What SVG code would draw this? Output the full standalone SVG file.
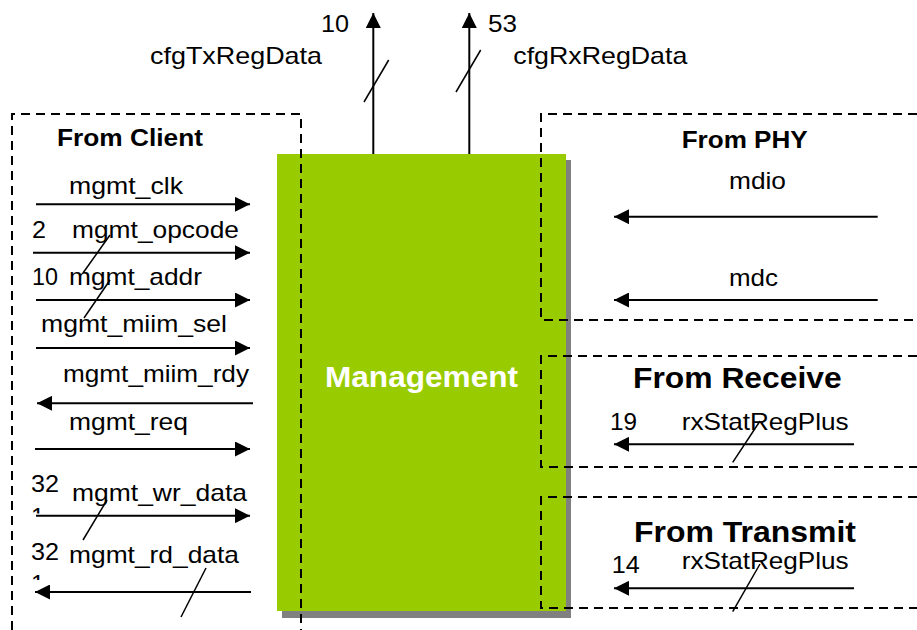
<svg xmlns="http://www.w3.org/2000/svg" width="917" height="630" viewBox="0 0 917 630">
<style>
text{font-family:"Liberation Sans",Arial,sans-serif;fill:#000;}
.t{font-size:24px;}
.h{font-size:24px;font-weight:bold;}
.hb{font-size:29px;font-weight:bold;}
.sig{stroke:#000;stroke-width:2;fill:none;marker-end:url(#ah);}
.bus{stroke:#000;stroke-width:1.5;fill:none;}
.dash{stroke:#000;stroke-width:2;fill:none;stroke-dasharray:9 6;}
</style>
<defs>
<marker id="ah" viewBox="0 0 15 15" refX="15" refY="7.5" markerWidth="15" markerHeight="15" markerUnits="userSpaceOnUse" orient="auto">
<path d="M0,0 L15,7.5 L0,15 z" fill="#000"/>
</marker>
<clipPath id="c1"><rect x="25" y="500" width="20" height="13.5"/></clipPath>
<clipPath id="c2"><rect x="25" y="566" width="20" height="14"/></clipPath>
</defs>

<g id="management">
<rect x="282" y="160" width="289" height="458" fill="#808080"/>
<rect x="277" y="154" width="289" height="457" fill="#99CC00"/>
<text x="325" y="386.7" font-size="30" font-weight="bold" style="fill:#fff" textLength="193" lengthAdjust="spacingAndGlyphs">Management</text>
</g>

<g id="from-client">
<path class="dash" d="M12,630 V114 H301 V630"/>
<text class="h" x="57" y="146" textLength="146" lengthAdjust="spacingAndGlyphs">From Client</text>
<text class="t" x="69" y="194" textLength="114" lengthAdjust="spacingAndGlyphs">mgmt_clk</text>
<text class="t" x="32" y="237.5" textLength="14" lengthAdjust="spacingAndGlyphs">2</text>
<text class="t" x="72" y="237.5" textLength="167" lengthAdjust="spacingAndGlyphs">mgmt_opcode</text>
<text class="t" x="32" y="285" textLength="26" lengthAdjust="spacingAndGlyphs">10</text>
<text class="t" x="69" y="285" textLength="133" lengthAdjust="spacingAndGlyphs">mgmt_addr</text>
<text class="t" x="41" y="332" textLength="186" lengthAdjust="spacingAndGlyphs">mgmt_miim_sel</text>
<text class="t" x="63" y="381.5" textLength="186" lengthAdjust="spacingAndGlyphs">mgmt_miim_rdy</text>
<text class="t" x="69" y="430" textLength="119" lengthAdjust="spacingAndGlyphs">mgmt_req</text>
<text class="t" x="31" y="491.5" textLength="28" lengthAdjust="spacingAndGlyphs">32</text>
<text class="t" x="31" y="525" clip-path="url(#c1)">1</text>
<text class="t" x="72" y="500.5" textLength="175" lengthAdjust="spacingAndGlyphs">mgmt_wr_data</text>
<text class="t" x="31" y="560" textLength="28" lengthAdjust="spacingAndGlyphs">32</text>
<text class="t" x="31" y="591.5" clip-path="url(#c2)">1</text>
<text class="t" x="69" y="563" textLength="170" lengthAdjust="spacingAndGlyphs">mgmt_rd_data</text>
</g>

<g id="from-phy">
<path class="dash" d="M917,114 H541 V320 H917"/>
<text class="h" x="681.7" y="147.7" textLength="126" lengthAdjust="spacingAndGlyphs">From PHY</text>
<text class="t" x="729" y="189" textLength="57" lengthAdjust="spacingAndGlyphs">mdio</text>
<text class="t" x="729" y="286" textLength="49" lengthAdjust="spacingAndGlyphs">mdc</text>
</g>

<g id="from-receive">
<path class="dash" d="M917,356 H541 V467 H917"/>
<text class="hb" x="633" y="387.7" textLength="208.7" lengthAdjust="spacingAndGlyphs">From Receive</text>
<text class="t" x="610" y="430" textLength="27" lengthAdjust="spacingAndGlyphs">19</text>
<text class="t" x="681.7" y="430" textLength="167" lengthAdjust="spacingAndGlyphs">rxStatRegPlus</text>
</g>

<g id="from-transmit">
<path class="dash" d="M917,497 H541 V608 H917"/>
<text class="hb" x="634" y="541.7" textLength="222" lengthAdjust="spacingAndGlyphs">From Transmit</text>
<text class="t" x="611.7" y="573.3" textLength="28" lengthAdjust="spacingAndGlyphs">14</text>
<text class="t" x="681.7" y="569.3" textLength="167" lengthAdjust="spacingAndGlyphs">rxStatRegPlus</text>
</g>

<g id="outputs">
<text class="t" x="321" y="32" textLength="28" lengthAdjust="spacingAndGlyphs">10</text>
<text class="t" x="488" y="32" textLength="29" lengthAdjust="spacingAndGlyphs">53</text>
<text class="t" x="150" y="64.3" textLength="172" lengthAdjust="spacingAndGlyphs">cfgTxRegData</text>
<text class="t" x="513.3" y="64.3" textLength="174" lengthAdjust="spacingAndGlyphs">cfgRxRegData</text>
</g>

<g id="connectors">
<line class="sig" x1="373.3" y1="154" x2="373.3" y2="13"/>
<line class="sig" x1="469.3" y1="154" x2="469.3" y2="13"/>
<line class="bus" x1="364" y1="102" x2="388.7" y2="60"/>
<line class="bus" x1="456" y1="92" x2="480.7" y2="50"/>

<line class="sig" x1="36" y1="204.3" x2="250" y2="204.3"/>
<line class="sig" x1="33" y1="252.7" x2="250" y2="252.7"/>
<line class="sig" x1="36" y1="300" x2="250" y2="300"/>
<line class="sig" x1="36" y1="348" x2="250" y2="348"/>
<line class="sig" x1="253" y1="403.3" x2="37" y2="403.3"/>
<line class="sig" x1="35" y1="449" x2="250" y2="449"/>
<line class="sig" x1="36" y1="515.7" x2="250" y2="515.7"/>
<line class="sig" x1="251" y1="592" x2="35" y2="592"/>
<line class="bus" x1="83" y1="273" x2="110" y2="235"/>
<line class="bus" x1="84" y1="318" x2="110" y2="280"/>
<line class="bus" x1="83" y1="540" x2="107" y2="500"/>
<line class="bus" x1="181" y1="617" x2="206" y2="568"/>

<line class="sig" x1="877.7" y1="216.7" x2="614" y2="216.7"/>
<line class="sig" x1="877.7" y1="300" x2="614" y2="300"/>
<line class="sig" x1="854" y1="444.3" x2="614" y2="444.3"/>
<line class="sig" x1="854" y1="588.3" x2="614" y2="588.3"/>
<line class="bus" x1="732.7" y1="462.3" x2="760" y2="421"/>
<line class="bus" x1="732.7" y1="611.7" x2="760" y2="564"/>
</g>
</svg>
